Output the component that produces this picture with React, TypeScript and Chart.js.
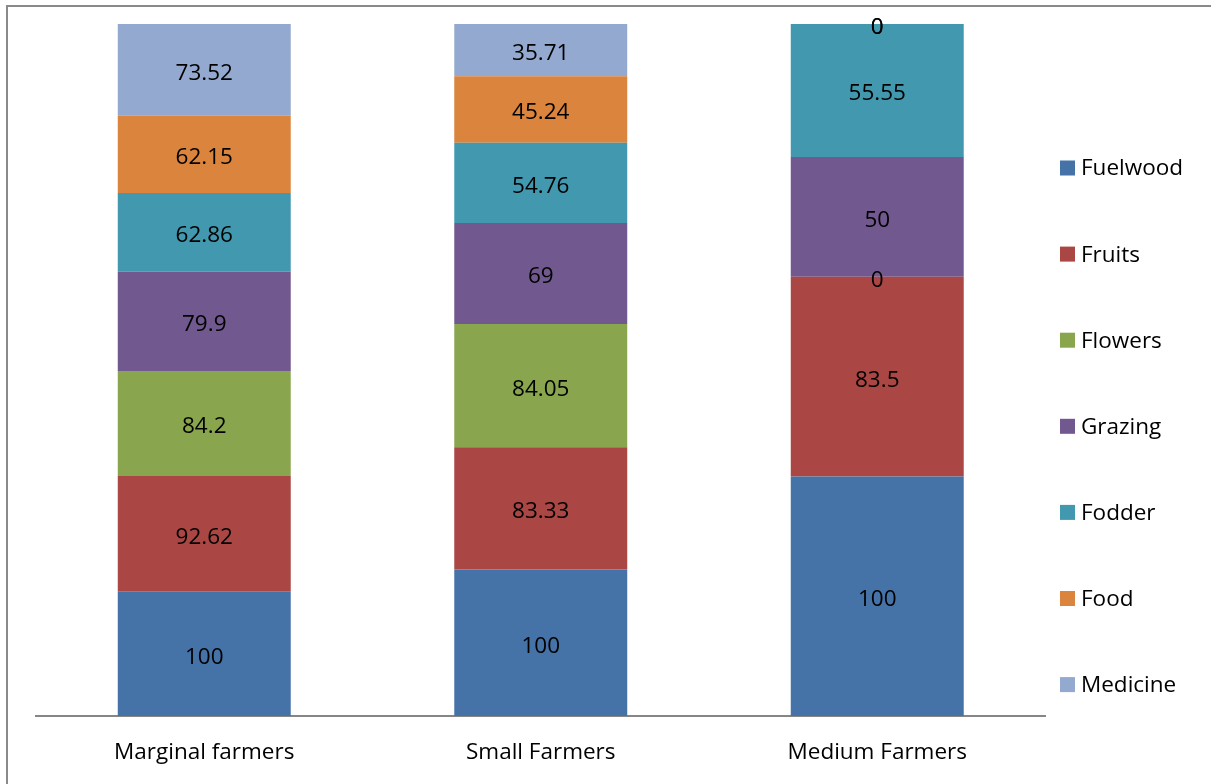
import React, { useEffect, useRef } from "react";
import { Chart, registerables } from "chart.js";

Chart.register(...registerables);

// Farmer groups on the x axis
const categories = ["Marginal farmers", "Small Farmers", "Medium Farmers"];

// Uses of trees reported by each farmer group (raw values, shown as labels)
const fuelwood = [100, 100, 100];
const fruits = [92.62, 83.33, 83.5];
const flowers = [84.2, 84.05, 0];
const grazing = [79.9, 69, 50];
const fodder = [62.86, 54.76, 55.55];
const food = [62.15, 45.24, 0];
const medicine = [73.52, 35.71, 0];

const seriesNames = ["Fuelwood", "Fruits", "Flowers", "Grazing", "Fodder", "Food", "Medicine"];
const seriesValues = [fuelwood, fruits, flowers, grazing, fodder, food, medicine];
const seriesColors = ["#4572A7", "#AA4643", "#89A54E", "#71588F", "#4198AF", "#DB843D", "#93A9CF"];

const FONT = "'Open Sans', 'Noto Sans', sans-serif";
const FONT_SIZE = 22.5;

// Column totals, so every column is stacked to 100 %
const totals = categories.map((_, c) => seriesValues.reduce((s, arr) => s + arr[c], 0));

// Writes the raw value in the middle of each segment
const segmentLabels = {
  id: "segmentLabels",
  afterDatasetsDraw(chart: any) {
    const ctx = chart.ctx;
    ctx.save();
    ctx.font = `${FONT_SIZE}px ${FONT}`;
    ctx.fillStyle = "#000";
    ctx.textAlign = "center";
    ctx.textBaseline = "middle";
    chart.data.datasets.forEach((ds: any, i: number) => {
      const meta = chart.getDatasetMeta(i);
      meta.data.forEach((el: any, j: number) => {
        const { x, y, base } = el.getProps(["x", "y", "base"], true);
        ctx.fillText(String(ds.rawValues[j]), x, (y + base) / 2 + 3.5);
      });
    });
    ctx.restore();
  },
};

// Legend column at the right-hand side
const sideLegend = {
  id: "sideLegend",
  afterDraw(chart: any) {
    const ctx = chart.ctx;
    const area = chart.chartArea;
    ctx.save();
    ctx.font = `${FONT_SIZE}px ${FONT}`;
    ctx.textAlign = "left";
    ctx.textBaseline = "middle";
    const boxX = area.right + 14.5;
    const step = 86.1;
    const firstY = 168;
    chart.data.datasets.forEach((ds: any, i: number) => {
      const cy = firstY + i * step;
      ctx.fillStyle = ds.backgroundColor;
      ctx.fillRect(boxX, cy - 7.5, 15, 15);
      ctx.fillStyle = "#000";
      ctx.fillText(ds.label, boxX + 21, cy + 1);
    });
    ctx.restore();
  },
};

export default function App() {
  const canvasRef = useRef<HTMLCanvasElement | null>(null);

  useEffect(() => {
    if (!canvasRef.current) return;
    const chart = new Chart(canvasRef.current, {
      type: "bar",
      data: {
        labels: categories,
        datasets: seriesNames.map((name, i) => ({
          label: name,
          data: seriesValues[i].map((v, c) => (v / totals[c]) * 100),
          rawValues: seriesValues[i],
          backgroundColor: seriesColors[i],
          borderWidth: 0,
          categoryPercentage: 1,
          barPercentage: 0.514,
        })) as any,
      },
      options: {
        responsive: false,
        animation: false,
        layout: { padding: { left: 36, right: 165.5, top: 24, bottom: 0 } },
        plugins: {
          legend: { display: false },
          tooltip: { enabled: false },
        },
        scales: {
          x: {
            stacked: true,
            grid: { display: false, drawTicks: false },
            border: { display: true, color: "#868686", width: 2 },
            ticks: {
              color: "#000",
              font: { family: FONT, size: FONT_SIZE },
              padding: 23,
            },
            afterFit(scale: any) {
              scale.height = 68;
            },
          },
          y: {
            stacked: true,
            display: false,
            min: 0,
            max: 100,
          },
        },
      },
      plugins: [segmentLabels, sideLegend],
    });
    return () => chart.destroy();
  }, []);

  return (
    <div
      style={{
        position: "absolute",
        left: 0,
        top: 0,
        width: 1211,
        height: 784,
        overflow: "hidden",
        background: "#fff",
      }}
    >
      <canvas ref={canvasRef} width={1211} height={784} style={{ position: "absolute", left: 0, top: 0 }} />
      <div
        style={{
          position: "absolute",
          left: 6,
          top: 5,
          width: 1300,
          height: 900,
          borderLeft: "2px solid #8a8a8a",
          borderTop: "2px solid #8a8a8a",
          pointerEvents: "none",
        }}
      />
    </div>
  );
}
